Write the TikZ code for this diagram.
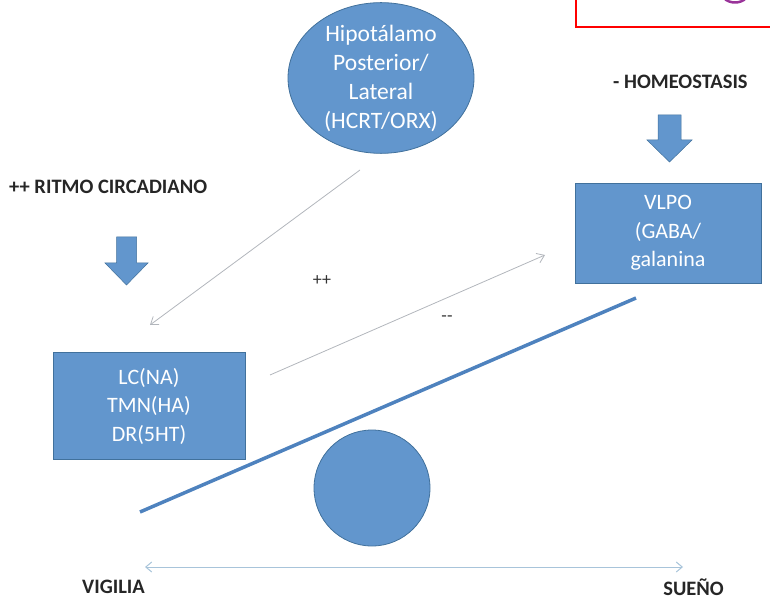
\documentclass[tikz,border=0pt]{standalone}
\usepackage{fontspec}
\setmainfont{Carlito}
\usetikzlibrary{shapes.geometric}
\usetikzlibrary{arrows.meta}

\definecolor{boxblue}{RGB}{98,150,205}
\definecolor{boxedge}{RGB}{65,113,156}
\definecolor{linkgray}{RGB}{178,182,188}
\definecolor{axisblue}{RGB}{168,196,218}
\definecolor{leverblue}{RGB}{78,130,190}

\begin{document}
\begin{tikzpicture}[x=1pt,y=-1pt,
  blue shape/.style={fill=boxblue, draw=boxedge, line width=0.8pt},
  brain box/.style={blue shape, rectangle, text=white, align=center,
    font=\fontsize{22}{28.5}\selectfont, inner sep=0pt},
  label/.style={font=\bfseries\fontsize{20.5}{24}\selectfont, text=black!85, inner sep=1pt},
  link/.style={draw=linkgray, line width=0.8pt, -{Straight Barb[length=7pt,width=10pt]}},
  axis/.style={draw=axisblue, line width=1pt, {Straight Barb[length=6pt,width=10pt]}-{Straight Barb[length=6pt,width=10pt]}}]
  \useasboundingbox (0,0) rectangle (770,601);

  % corner frame
  \draw[red, line width=1.6pt] (576,-5) rectangle (780,27);
  \draw[violet!80, line width=2.5pt] (724,-2) .. controls (729,4) and (741,4) .. (746,-2);

  % brain regions
  \node[brain box, ellipse, minimum width=186pt, minimum height=140pt,
    font=\fontsize{23.5}{29}\selectfont] (hyp) at (381,78)
    {Hipotálamo\\Posterior/\\Lateral\\(HCRT/ORX)};
  \node[brain box, minimum width=192pt, minimum height=107pt] (lc) at (149,406)
    {LC(NA)\\TMN(HA)\\DR(5HT)};
  \node[brain box, minimum width=186pt, minimum height=100pt] (vlpo) at (668,233)
    {VLPO\\(GABA/\\galanina};

  % labels
  \node[label, anchor=west] (ritmo) at (8,187) {++ RITMO CIRCADIANO};
  \node[label, anchor=west] (homeo) at (612,82) {- HOMEOSTASIS};
  \node[font=\fontsize{18}{20}\selectfont, text=black!80] (plus) at (322,281) {++};
  \node[font=\fontsize{18}{20}\selectfont, text=black!80] (minus) at (447,319) {-{}-};
  \node[label, anchor=west] (vig) at (81,587) {VIGILIA};
  \node[label, anchor=east] (sue) at (725,587) {SUEÑO};

  % block arrows
  \draw[blue shape, line width=0.5pt] (116.5,237) -- (136.5,237) -- (136.5,263) -- (148,263)
    -- (126.5,285) -- (105,263) -- (116.5,263) -- cycle;
  \draw[blue shape, line width=0.5pt] (658,115) -- (681,115) -- (681,140) -- (692,140)
    -- (669.5,162) -- (647,140) -- (658,140) -- cycle;

  % connectors
  \coordinate (hypout) at (360,170);
  \coordinate (lcin) at (150,325);
  \draw[link] (hypout) -- (lcin);
  \coordinate (lcout) at (270,375);
  \coordinate (vlpoin) at (545,255);
  \draw[link] (lcout) -- (vlpoin);

  % balance
  \node[blue shape, circle, minimum size=116pt, inner sep=0pt] (pivot) at (372,488) {};
  \draw[leverblue, line width=3.5pt] (140,512) -- (636,298);
  \coordinate (wake) at (145,567);
  \coordinate (sleep) at (683,567);
  \draw[axis] (wake) -- (sleep);
\end{tikzpicture}
\end{document}
